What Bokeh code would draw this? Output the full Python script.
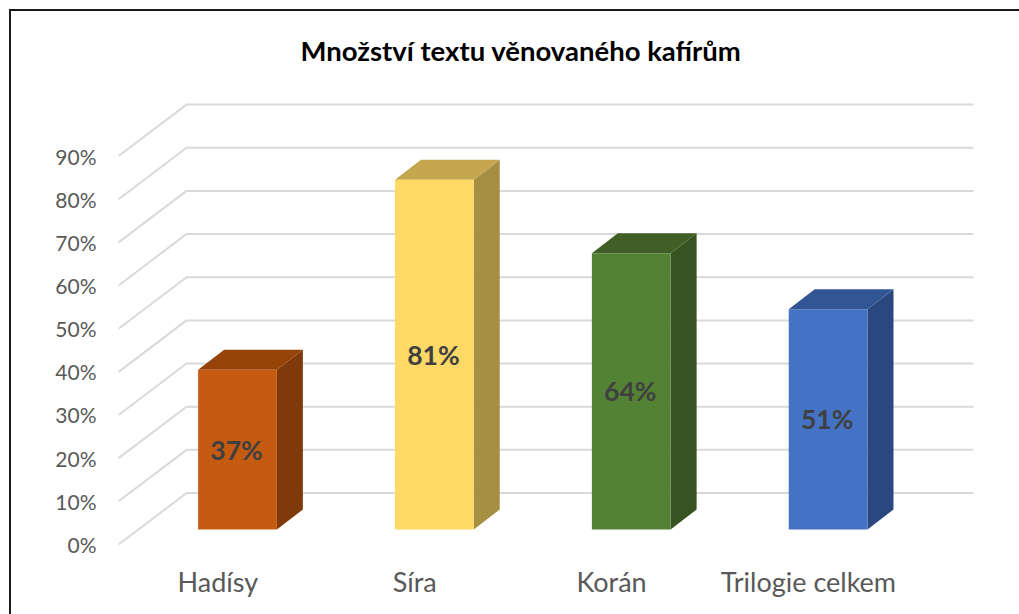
from bokeh.plotting import figure
from bokeh.models import Range1d, FixedTicker
from bokeh.core.properties import value
from bokeh.embed import file_html
from bokeh.resources import INLINE

TITLE = "Množství textu věnovaného kafírům"
categories = ["Hadísy", "Síra", "Korán", "Trilogie celkem"]
shares = [37, 81, 64, 51]
labels = ["37%", "81%", "64%", "51%"]
y_ticks = [0, 10, 20, 30, 40, 50, 60, 70, 80, 90]
front_colors = ["#C55A11", "#FFD966", "#548235", "#4472C4"]
side_colors = ["#7F3A0B", "#A68F42", "#375322", "#2A4780"]
top_colors = ["#964309", "#C3A64E", "#3F5F27", "#325593"]

FONT = "Lato"
# 3-D projection constants, in axis units
WALL_DX, WALL_DY = 0.345, 11.92
WALL_X0, WALL_X1 = -0.504, 3.838
BAR_OFFSET, BAR_HALF = 0.1, 0.2
BAR_FLOOR = 3.48
DEPTH_DX, DEPTH_DY = 0.132, 4.646

p = figure(width=1019, height=614, output_backend="svg", toolbar_location=None,
           x_range=Range1d(-0.535, 3.874), y_range=Range1d(-1.394, 107.5),
           min_border_left=112, min_border_right=39, min_border_top=80, min_border_bottom=64,
           border_fill_color=None)
p.grid.visible = False
p.outline_line_color = None

# outer border of the picture: top and left rules, running off the page edges
RULE = "linear-gradient(#1A1A1A,#1A1A1A)"
p.styles = {"background": f"{RULE} 9px 9px / 1010px 2px no-repeat, {RULE} 9px 9px / 2px 605px no-repeat"}

p.title.text = TITLE
p.title.text_font = FONT
p.title.text_font_size = "27.5px"
p.title.text_font_style = "bold"
p.title.text_color = "#000000"
p.title.align = "left"
p.title.offset = 188
p.title.standoff = 28

# axes
p.yaxis.ticker = FixedTicker(ticks=y_ticks)
p.yaxis.major_label_overrides = {t: f"{t}%" for t in y_ticks}
p.yaxis.major_label_text_font = FONT
p.yaxis.major_label_text_font_size = "21px"
p.yaxis.major_label_text_color = "#595959"
p.yaxis.major_label_standoff = 10
p.yaxis.axis_line_color = None
p.yaxis.major_tick_line_color = None
p.yaxis.minor_tick_line_color = None

p.xaxis.ticker = FixedTicker(ticks=list(range(len(categories))))
p.xaxis.major_label_overrides = {i: c for i, c in enumerate(categories)}
p.xaxis.major_label_text_font = FONT
p.xaxis.major_label_text_font_size = "27px"
p.xaxis.major_label_text_color = "#595959"
p.xaxis.major_label_standoff = 8
p.xaxis.axis_line_color = None
p.xaxis.major_tick_line_color = None
p.xaxis.minor_tick_line_color = None

# gridlines: floor/side edge and back wall
grid_xs = [[WALL_X0, WALL_X0 + WALL_DX, WALL_X1] for _ in y_ticks]
grid_ys = [[t, t + WALL_DY, t + WALL_DY] for t in y_ticks]
p.multi_line(grid_xs, grid_ys, line_color="#D9D9D9", line_width=2)

# bars
for i, v in enumerate(shares):
    c = i + BAR_OFFSET
    l, r = c - BAR_HALF, c + BAR_HALF
    b, t = BAR_FLOOR, BAR_FLOOR + v
    p.patch([r, r + DEPTH_DX, r + DEPTH_DX, r], [b, b + DEPTH_DY, t + DEPTH_DY, t],
            fill_color=side_colors[i], line_color=None)
    p.patch([l, r, r + DEPTH_DX, l + DEPTH_DX], [t, t, t + DEPTH_DY, t + DEPTH_DY],
            fill_color=top_colors[i], line_color=None)
    p.quad(left=l, right=r, bottom=b, top=t, fill_color=front_colors[i], line_color=None)
    p.text([c - 0.005], [BAR_FLOOR + v / 2], text=[labels[i]], text_font=value(FONT), text_font_size="26.5px",
           text_font_style="bold", text_color="#404040", text_align="center", text_baseline="middle")

open("out.html", "w").write(file_html(p, INLINE))
